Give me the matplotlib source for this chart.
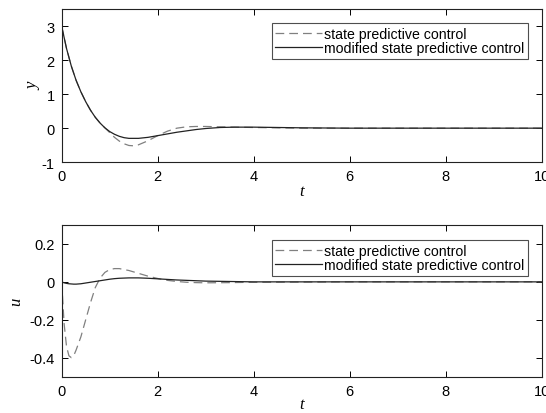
import matplotlib
matplotlib.use("Agg")
import matplotlib.pyplot as plt

plt.rcParams['font.family'] = ['Liberation Sans', 'DejaVu Sans']
plt.rcParams['font.size'] = 10

# time samples for the top panel (output y)
t_y = [0, 0.1, 0.2, 0.3, 0.4, 0.5, 0.6, 0.7, 0.8, 0.9, 1.0, 1.1, 1.2, 1.3,
       1.4, 1.5, 1.6, 1.8, 2.0, 2.2, 2.4, 2.6, 2.8, 3.0, 3.3, 3.6, 4.0,
       4.5, 5.0, 6.0, 7.0, 8.0, 9.0, 10.0]
y_spc = [3.0, 2.35, 1.83, 1.41, 1.07, 0.78, 0.53, 0.32, 0.15, 0.01, -0.13,
         -0.27, -0.38, -0.46, -0.51, -0.52, -0.49, -0.37, -0.22, -0.09, 0.0,
         0.04, 0.05, 0.05, 0.04, 0.03, 0.02, 0.01, 0.0, 0.0, 0.0, 0.0, 0.0, 0.0]
y_mspc = [3.0, 2.35, 1.83, 1.41, 1.07, 0.78, 0.53, 0.32, 0.15, 0.01, -0.10,
          -0.18, -0.24, -0.28, -0.30, -0.30, -0.30, -0.27, -0.22, -0.17,
          -0.12, -0.08, -0.04, -0.01, 0.02, 0.03, 0.03, 0.02, 0.01, 0.0, 0.0,
          0.0, 0.0, 0.0]

# time samples for the bottom panel (input u)
t_u = [0, 0.05, 0.1, 0.15, 0.2, 0.25, 0.3, 0.4, 0.5, 0.6, 0.7, 0.8, 0.9,
       1.0, 1.1, 1.2, 1.4, 1.6, 1.8, 2.0, 2.2, 2.4, 2.6, 2.8, 3.0, 3.5, 4.0,
       5.0, 6.0, 7.0, 8.0, 9.0, 10.0]
u_spc = [0.0, -0.22, -0.34, -0.39, -0.40, -0.39, -0.36, -0.29, -0.20, -0.11,
         -0.03, 0.02, 0.05, 0.065, 0.07, 0.07, 0.06, 0.045, 0.03, 0.018,
         0.008, 0.002, -0.002, -0.004, -0.005, -0.004, -0.002, -0.001, 0.0,
         0.0, 0.0, 0.0, 0.0]
u_mspc = [0.0, -0.005, -0.008, -0.010, -0.011, -0.012, -0.012, -0.010,
          -0.006, -0.002, 0.002, 0.006, 0.010, 0.014, 0.017, 0.019, 0.021,
          0.021, 0.019, 0.016, 0.013, 0.010, 0.008, 0.006, 0.004, 0.002,
          0.0, 0.0, 0.0, 0.0, 0.0, 0.0, 0.0]

y_ticks = [-1, 0, 1, 2, 3]
u_ticks = [-0.4, -0.2, 0, 0.2]
u_tick_labels = ['-0.4', '-0.2', '0', '0.2']
t_ticks = [0, 2, 4, 6, 8, 10]
labels = ['state predictive control', 'modified state predictive control']

fig = plt.figure(figsize=(5.46, 4.14), dpi=100)
ax1 = fig.add_axes([0.113, 0.606, 0.879, 0.369])
ax2 = fig.add_axes([0.113, 0.088, 0.879, 0.366])

label_font = dict(family='Liberation Serif', style='italic', fontsize=12)


def style_axes(ax):
    ax.tick_params(direction='in', top=True, right=True, length=4,
                   width=0.7, labelsize=10.5, pad=5)
    for sp in ax.spines.values():
        sp.set_linewidth(0.8)
        sp.set_color('#222222')


def add_legend(ax, y_top):
    leg = ax.legend(loc='upper right', bbox_to_anchor=(0.971, y_top),
                    borderaxespad=0, fancybox=False, frameon=True,
                    handlelength=3.3, handletextpad=0.15, borderpad=0.25,
                    labelspacing=0.05, fontsize=10.2)
    leg.get_frame().set_edgecolor('#222222')
    leg.get_frame().set_linewidth(0.8)
    return leg


ax1.plot(t_y, y_spc, color='#808080', linestyle=(0, (7, 4)), linewidth=0.9,
         label=labels[0])
ax1.plot(t_y, y_mspc, color='#222222', linewidth=0.9, label=labels[1])
ax1.set_xlim(0, 10)
ax1.set_ylim(-1, 3.5)
ax1.set_yticks(y_ticks)
ax1.set_yticklabels([str(v) for v in y_ticks])
ax1.set_xticks(t_ticks)
ax1.set_xlabel('t', labelpad=0, **label_font)
ax1.set_ylabel('y', labelpad=0, **label_font)
style_axes(ax1)
add_legend(ax1, 0.91)

ax2.plot(t_u, u_spc, color='#808080', linestyle=(0, (7, 4)), linewidth=0.9,
         label=labels[0])
ax2.plot(t_u, u_mspc, color='#222222', linewidth=0.9, label=labels[1])
ax2.set_xlim(0, 10)
ax2.set_ylim(-0.5, 0.3)
ax2.set_yticks(u_ticks)
ax2.set_yticklabels(u_tick_labels)
ax2.set_xticks(t_ticks)
ax2.set_xlabel('t', labelpad=-1, **label_font)
ax2.set_ylabel('u', labelpad=4, **label_font)
style_axes(ax2)
add_legend(ax2, 0.90)

fig.savefig('out.png', dpi=100)
